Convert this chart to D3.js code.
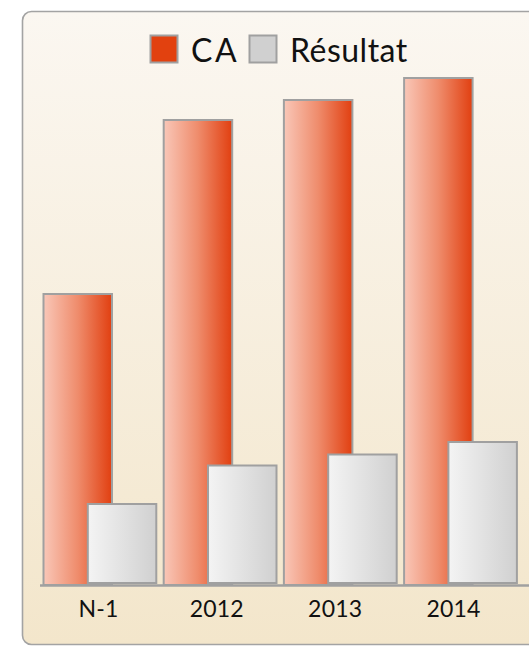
<!DOCTYPE html>
<html>
<head>
<meta charset="utf-8">
<script src="https://cdn.jsdelivr.net/npm/d3@7"></script>
<style>
  html, body { margin: 0; padding: 0; background: #ffffff; }
  svg { display: block; }
  text { font-family: Lato, "Open Sans", sans-serif; fill: #111; }
</style>
</head>
<body>
<svg id="chart" width="529" height="646"></svg>
<script>
// Chiffre d'affaires et résultat par exercice
const categories = ["N-1", "2012", "2013", "2014"];
const caValues = [582, 930, 970, 1014];
const resultatValues = [162, 239, 261, 286];
const seriesNames = ["CA", "Résultat"];

const W = 529, H = 646;
const svg = d3.select("#chart");
const defs = svg.append("defs");

// Panel background: warm white at the top fading to beige
const bg = defs.append("linearGradient").attr("id", "bgGrad")
  .attr("x1", 0).attr("y1", 0).attr("x2", 0).attr("y2", 1);
bg.append("stop").attr("offset", "0%").attr("stop-color", "#fbf7f1");
bg.append("stop").attr("offset", "100%").attr("stop-color", "#f3e6cb");

const caGrad = defs.append("linearGradient").attr("id", "caGrad")
  .attr("x1", 0).attr("y1", 0).attr("x2", 1).attr("y2", 0);
caGrad.append("stop").attr("offset", "0%").attr("stop-color", "#f9c7b8");
caGrad.append("stop").attr("offset", "50%").attr("stop-color", "#ef8c6c");
caGrad.append("stop").attr("offset", "100%").attr("stop-color", "#e13f10");

const resGrad = defs.append("linearGradient").attr("id", "resGrad")
  .attr("x1", 0).attr("y1", 0).attr("x2", 1).attr("y2", 0);
resGrad.append("stop").attr("offset", "0%").attr("stop-color", "#f4f4f4");
resGrad.append("stop").attr("offset", "100%").attr("stop-color", "#d0d0d0");

svg.append("rect")
  .attr("x", 22.5).attr("y", 11.5)
  .attr("width", 540).attr("height", 633)
  .attr("rx", 9).attr("ry", 9)
  .attr("fill", "url(#bgGrad)")
  .attr("stroke", "#a3a3a3").attr("stroke-width", 1.6);

// Scales
const baseline = 585;
const x = d3.scaleBand().domain(categories).range([40, 40 + 4 * 120.2]).paddingInner(0).paddingOuter(0);
const y = d3.scaleLinear().domain([0, 1100]).range([baseline, 35]);
const barW = 68.5;
const offsets = { ca: 3.5, res: 47.8 };

const barStroke = "#a0a0a0";

// CA bars
svg.append("g").selectAll("rect")
  .data(categories.map((c, i) => ({ c, v: caValues[i] })))
  .join("rect")
  .attr("x", d => x(d.c) + offsets.ca)
  .attr("y", d => y(d.v))
  .attr("width", barW)
  .attr("height", d => baseline - y(d.v))
  .attr("fill", "url(#caGrad)")
  .attr("stroke", barStroke).attr("stroke-width", 2);

// Résultat bars, drawn over the CA bars
svg.append("g").selectAll("rect")
  .data(categories.map((c, i) => ({ c, v: resultatValues[i] })))
  .join("rect")
  .attr("x", d => x(d.c) + offsets.res)
  .attr("y", d => y(d.v))
  .attr("width", barW)
  .attr("height", d => baseline - 2 - y(d.v))
  .attr("fill", "url(#resGrad)")
  .attr("stroke", barStroke).attr("stroke-width", 2);

// Category axis
const labelScale = d3.scalePoint().domain(categories).range([98, 453]);
const axis = svg.append("g")
  .attr("transform", `translate(0,${baseline + 0.5})`)
  .call(d3.axisBottom(labelScale).tickSize(0).tickPadding(15));
axis.select(".domain").remove();
axis.append("line")
  .attr("x1", 40).attr("x2", W).attr("y1", 0).attr("y2", 0)
  .attr("stroke", "#a0a0a0").attr("stroke-width", 2.6);
axis.selectAll(".tick text")
  .attr("font-family", "Lato, 'Open Sans', sans-serif")
  .attr("font-size", 23)
  .attr("letter-spacing", 0.2)
  .attr("fill", "#111");

// Legend
const legend = svg.append("g");
const legendItems = [
  { name: seriesNames[0], fill: "#e2410f", x: 150 },
  { name: seriesNames[1], fill: "#d0d0d0", x: 249 }
];
legendItems.forEach(it => {
  legend.append("rect")
    .attr("x", it.x + 0.5).attr("y", 35.5)
    .attr("width", 27).attr("height", 27)
    .attr("fill", it.fill)
    .attr("stroke", "#a0a0a0").attr("stroke-width", 2);
  legend.append("text")
    .attr("x", it.x + 41).attr("y", 62)
    .attr("font-size", 32)
    .attr("letter-spacing", it.name === "CA" ? 2.5 : 0.5)
    .text(it.name);
});
</script>
</body>
</html>
